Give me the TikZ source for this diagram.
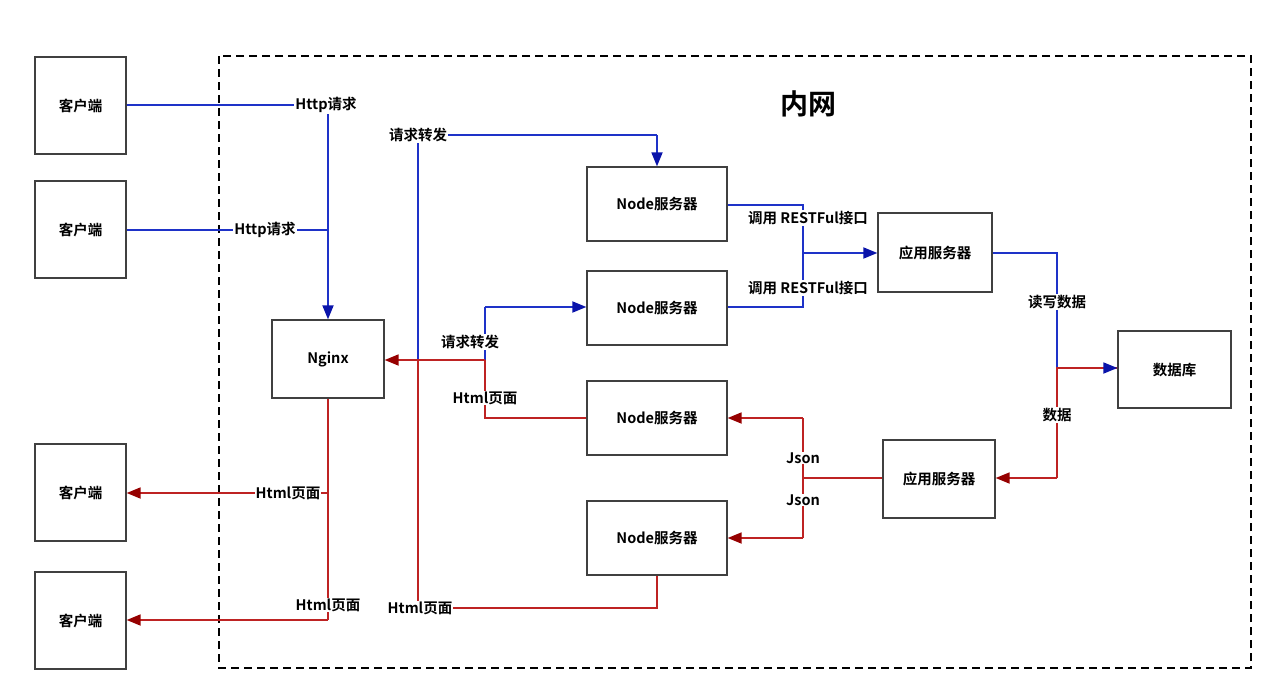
\documentclass[tikz,border=0pt]{standalone}
\usepackage{fontspec}
\setmainfont{Noto Sans CJK SC}[BoldFont={* Bold}]
\usetikzlibrary{arrows.meta}
\definecolor{lblue}{RGB}{30,50,200}
\definecolor{ablue}{RGB}{10,20,170}
\definecolor{lred}{RGB}{190,35,35}
\definecolor{ared}{RGB}{150,0,0}
\begin{document}
\begin{tikzpicture}[x=1pt,y=-1pt,
  box/.style={draw=black!75,line width=1.3pt,fill=white,inner sep=0pt,font=\bfseries\fontsize{14.5}{16}\selectfont},
  bl/.style={draw=lblue,line width=1.8pt},
  rd/.style={draw=lred,line width=1.8pt},
  bar/.style={-{Triangle[length=14pt,width=11pt,color=ablue]}},
  rar/.style={-{Triangle[length=14pt,width=11pt,color=ared]}},
  lbl/.style={fill=white,inner sep=1pt,font=\bfseries\fontsize{14.5}{16}\selectfont}]
\useasboundingbox (0,0) rectangle (1261,691);
\draw[line width=1.5pt,dash pattern=on 8pt off 5pt] (219,56) rectangle (1251,668);
\node[font=\bfseries\fontsize{28}{30}\selectfont] (title) at (808,104) {内网};
% boxes
\node[box,minimum width=91pt,minimum height=97pt] (c1) at (80.5,105.5) {客户端};
\node[box,minimum width=91pt,minimum height=97pt] (c2) at (80.5,229.5) {客户端};
\node[box,minimum width=91pt,minimum height=97pt] (c3) at (80.5,492.5) {客户端};
\node[box,minimum width=91pt,minimum height=97pt] (c4) at (80.5,620.5) {客户端};
\node[box,minimum width=112pt,minimum height=78pt] (ng) at (328,359) {Nginx};
\node[box,minimum width=140pt,minimum height=74pt] (n1) at (657,204) {Node服务器};
\node[box,minimum width=140pt,minimum height=74pt] (n2) at (657,308) {Node服务器};
\node[box,minimum width=140pt,minimum height=74pt] (n3) at (657,418) {Node服务器};
\node[box,minimum width=140pt,minimum height=74pt] (n4) at (657,538) {Node服务器};
\node[box,minimum width=114pt,minimum height=79pt] (a1) at (935,252.5) {应用服务器};
\node[box,minimum width=112pt,minimum height=78pt] (a2) at (939,479) {应用服务器};
\node[box,minimum width=113pt,minimum height=77pt] (db) at (1174.5,369.5) {数据库};
% junction coordinates
\coordinate (j1) at (328,105);
\coordinate (j2) at (328,230);
\coordinate (f1a) at (418,360);
\coordinate (f1b) at (418,135);
\coordinate (f1c) at (657,135);
\coordinate (f2a) at (485,360);
\coordinate (f2b) at (485,307);
\coordinate (r1a) at (803,205);
\coordinate (r1b) at (803,307);
\coordinate (r1c) at (803,253);
\coordinate (w1) at (1057,253);
\coordinate (w2) at (1057,368);
\coordinate (w3) at (1057,478);
\coordinate (w4) at (1095,368);
\coordinate (s1) at (803,478);
\coordinate (s2) at (803,418);
\coordinate (s3) at (803,538);
\coordinate (h1) at (485,418);
\coordinate (h2) at (328,493);
\coordinate (h3) at (328,620);
\coordinate (h4) at (657,608);
\coordinate (h5) at (418,608);
% blue connectors
\draw[bl] (c1.east |- j1) -- (j1);
\draw[bl,bar] (j1) -- (ng.north);
\draw[bl] (c2.east |- j2) -- (j2);
\draw[bl] (f1a) -- (f1b) -- (f1c);
\draw[bl,bar] (f1c) -- (n1.north);
\draw[bl] (f2a) -- (f2b);
\draw[bl,bar] (f2b) -- (n2.west |- f2b);
\draw[bl] (n1.east |- r1a) -- (r1a) -- (r1b) -- (n2.east |- r1b);
\draw[bl,bar] (r1c) -- (a1.west |- r1c);
\draw[bl] (a1.east |- w1) -- (w1) -- (w2);
% red connectors
\draw[rd] (n3.west |- h1) -- (h1) -- (f2a);
\draw[rd,rar] (f2a) -- (ng.east |- f2a);
\draw[rd] (ng.south) -- (h3);
\draw[rd,rar] (h2) -- (c3.east |- h2);
\draw[rd,rar] (h3) -- (c4.east |- h3);
\draw[rd] (n4.south) -- (h4) -- (h5) -- (f1a);
\draw[rd] (a2.west |- s1) -- (s1);
\draw[rd] (s2) -- (s3);
\draw[rd,rar] (s2) -- (n3.east |- s2);
\draw[rd,rar] (s3) -- (n4.east |- s3);
\draw[rd] (db.west |- w2) -- (w2) -- (w3);
\draw[rd,rar] (w3) -- (a2.east |- w3);
\draw[rd,bar] (w4) -- (db.west |- w4);
% labels
\node[lbl] (l1) at (326,105) {Http请求};
\node[lbl] (l2) at (265,230) {Http请求};
\node[lbl] (l3) at (418,135) {请求转发};
\node[lbl] (l4) at (470,342) {请求转发};
\node[lbl] (l5) at (808,218) {调用 RESTFul接口};
\node[lbl] (l6) at (808,288) {调用 RESTFul接口};
\node[lbl] (l7) at (1057,302) {读写数据};
\node[lbl] (l8) at (1057,415) {数据};
\node[lbl] (l9) at (803,458) {Json};
\node[lbl] (l10) at (803,500) {Json};
\node[lbl] (l11) at (485,398) {Html页面};
\node[lbl] (l12) at (288,493) {Html页面};
\node[lbl] (l13) at (328,605) {Html页面};
\node[lbl] (l14) at (420,608) {Html页面};
\end{tikzpicture}
\end{document}
